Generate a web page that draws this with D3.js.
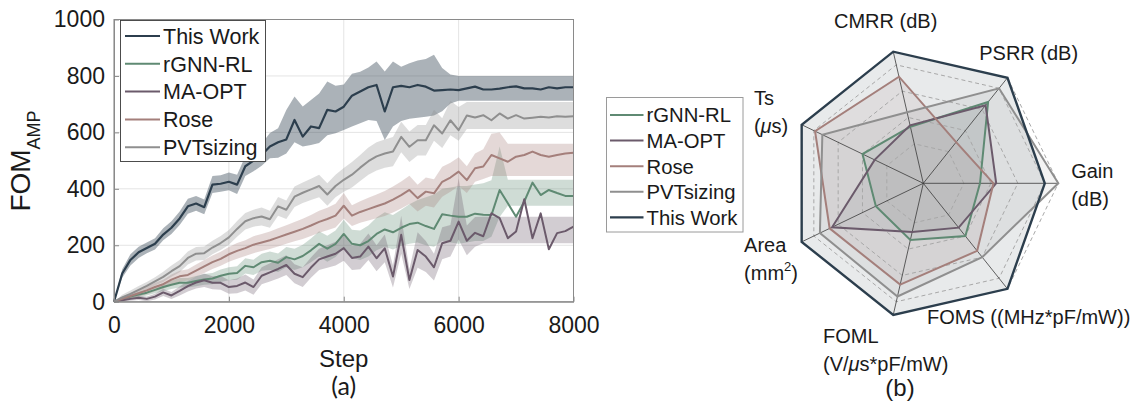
<!DOCTYPE html>
<html>
<head>
<meta charset="utf-8">
<script src="https://cdn.jsdelivr.net/npm/d3@7"></script>
<style>
  body { margin: 0; background: #fff; }
  text { font-family: "Liberation Sans", Arial, sans-serif; fill: #1a1a1a; }
</style>
</head>
<body>
<script>
// ---- (a) training curves ----
var steps = [0, 143, 286, 429, 571, 714, 857, 1000, 1143, 1286, 1429, 1571, 1714, 1857, 2000,
  2143, 2286, 2429, 2571, 2714, 2857, 3000, 3143, 3286, 3429, 3571, 3714, 3857, 4000,
  4143, 4286, 4429, 4571, 4714, 4857, 5000, 5143, 5286, 5429, 5571, 5714, 5857, 6000,
  6143, 6286, 6429, 6571, 6714, 6857, 7000, 7143, 7286, 7429, 7571, 7714, 7857, 8000];

var twMean = [0, 100, 148, 175, 190, 205, 238, 262, 295, 338, 348, 335, 415, 418, 425, 415, 480, 500, 520, 550,
  565, 575, 644, 585, 621, 615, 680, 674, 691, 730, 745, 760, 768, 674, 760, 765, 760, 768, 762, 748,
  750, 752, 750, 756, 762, 752, 752, 755, 760, 763, 756, 756, 752, 760, 756, 760, 760];
var twLo = [0, 85, 128, 155, 172, 185, 218, 240, 272, 312, 322, 310, 385, 390, 395, 382, 445, 462, 482, 508,
  510, 525, 565, 550, 555, 562, 590, 597, 608, 621, 632, 644, 640, 573, 621, 640, 648, 652, 655, 660,
  675, 702, 712, 712, 712, 712, 712, 712, 712, 712, 712, 712, 712, 712, 712, 712, 712];
var twHi = [0, 115, 168, 195, 210, 225, 260, 285, 320, 365, 375, 362, 445, 448, 458, 450, 515, 540, 560, 598,
  615, 679, 727, 692, 715, 738, 780, 765, 770, 808, 815, 830, 851, 816, 851, 833, 845, 855, 860, 875,
  828, 805, 800, 800, 800, 800, 800, 800, 800, 800, 800, 800, 800, 800, 800, 800, 800];

var gnnMean = [0, 10, 18, 25, 32, 42, 52, 60, 67, 67, 73, 79, 82, 92, 99, 102, 127, 122, 140, 145,
  138, 158, 150, 162, 182, 205, 188, 205, 240, 205, 200, 215, 240, 256, 246, 262, 275, 280, 268, 258,
  310, 305, 301, 301, 312, 308, 307, 396, 349, 301, 355, 422, 378, 396, 385, 375, 375];
var gnnLo = [0, 3, 10, 16, 22, 30, 38, 45, 50, 50, 55, 60, 62, 70, 76, 78, 100, 95, 110, 112,
  105, 122, 112, 122, 140, 160, 142, 158, 190, 155, 148, 160, 182, 195, 185, 198, 205, 210, 200, 195,
  215, 210, 205, 210, 215, 215, 230, 300, 340, 340, 340, 340, 340, 340, 340, 340, 340];
var gnnHi = [0, 17, 26, 34, 42, 54, 66, 75, 84, 84, 91, 98, 102, 114, 122, 126, 154, 149, 170, 178,
  171, 194, 188, 202, 224, 250, 234, 252, 290, 255, 252, 270, 298, 317, 307, 326, 345, 360, 370, 380,
  400, 405, 410, 410, 415, 420, 430, 550, 432, 432, 432, 432, 432, 432, 432, 432, 432];

var maMean = [0, 5, 10, 14, 10, 18, 33, 22, 38, 55, 68, 76, 67, 67, 52, 56, 68, 52, 92, 104,
  116, 130, 99, 87, 121, 150, 160, 170, 190, 155, 160, 195, 154, 189, 89, 237, 77, 183, 160, 122,
  207, 216, 284, 216, 244, 232, 313, 296, 225, 249, 363, 225, 313, 186, 243, 250, 266];
var maLo = [0, 0, 3, 6, 2, 8, 20, 10, 22, 36, 47, 52, 44, 42, 28, 30, 40, 25, 62, 72,
  82, 95, 65, 52, 85, 112, 120, 128, 145, 112, 115, 148, 108, 140, 50, 170, 45, 120, 105, 75,
  150, 160, 220, 165, 195, 207, 207, 207, 207, 207, 207, 207, 207, 207, 207, 207, 207];
var maHi = [0, 10, 17, 22, 18, 28, 46, 34, 54, 74, 89, 100, 90, 92, 76, 82, 96, 79, 122, 136,
  150, 165, 133, 122, 157, 188, 200, 212, 235, 198, 205, 242, 200, 238, 128, 305, 115, 246, 215, 170,
  264, 272, 437, 270, 300, 301, 301, 301, 301, 301, 301, 301, 301, 301, 301, 301, 301];

var roseMean = [0, 10, 20, 30, 40, 52, 62, 78, 90, 95, 110, 125, 140, 152, 168, 180, 190, 202, 210, 218,
  228, 238, 248, 258, 270, 283, 293, 305, 340, 305, 318, 328, 338, 348, 362, 378, 396, 367, 390, 384,
  425, 440, 461, 431, 473, 479, 520, 508, 496, 514, 520, 532, 520, 514, 520, 525, 528];
var roseLo = [0, 2, 10, 18, 26, 37, 46, 60, 70, 75, 88, 102, 116, 127, 142, 152, 162, 172, 180, 187,
  196, 205, 214, 222, 233, 244, 253, 263, 295, 268, 280, 288, 296, 304, 316, 330, 346, 320, 340, 334,
  372, 390, 410, 385, 425, 435, 445, 445, 445, 445, 445, 445, 445, 445, 445, 445, 445];
var roseHi = [0, 18, 30, 42, 54, 67, 78, 96, 110, 115, 132, 148, 164, 177, 194, 208, 218, 232, 240, 249,
  260, 271, 282, 294, 307, 322, 333, 347, 385, 342, 356, 368, 380, 392, 408, 426, 446, 414, 440, 434,
  478, 492, 512, 480, 525, 540, 595, 600, 560, 560, 560, 560, 560, 560, 560, 560, 560];

var pvtMean = [0, 15, 28, 42, 56, 72, 88, 108, 126, 155, 170, 172, 192, 208, 228, 258, 285, 296, 302, 292,
  338, 326, 372, 386, 398, 410, 380, 410, 432, 450, 475, 498, 515, 525, 532, 584, 549, 572, 572, 625,
  596, 643, 608, 660, 653, 661, 643, 667, 649, 661, 649, 652, 655, 653, 657, 655, 657];
var pvtLo = [0, 5, 16, 28, 42, 57, 70, 88, 104, 132, 146, 148, 168, 183, 202, 230, 256, 266, 270, 262,
  305, 293, 336, 350, 360, 370, 340, 370, 390, 405, 428, 450, 465, 475, 480, 530, 495, 518, 518, 570,
  545, 590, 570, 612, 612, 612, 612, 612, 612, 612, 612, 612, 612, 612, 612, 612, 612];
var pvtHi = [0, 25, 40, 56, 70, 87, 106, 128, 148, 178, 194, 196, 216, 233, 254, 286, 314, 326, 334, 322,
  371, 359, 408, 422, 436, 450, 420, 450, 474, 495, 520, 546, 565, 575, 584, 638, 603, 626, 626, 680,
  650, 712, 690, 708, 708, 708, 708, 708, 708, 708, 708, 708, 708, 708, 708, 708, 708];

var xTicks = [0, 2000, 4000, 6000, 8000];
var yTicks = [0, 200, 400, 600, 800, 1000];

// ---- (b) radar ----
var radarLabels = [["Gain", "(dB)"], ["PSRR (dB)"], ["CMRR (dB)"], ["Ts", "(\u03bcs)"],
  ["Area", "(mm^2)"], ["FOML", "(V/\u03bcs*pF/mW)"], ["FOMS ((MHz*pF/mW))"]];
var radarGnn  = [0.42, 0.77, 0.43, 0.50, 0.39, 0.43, 0.50];
var radarMa   = [0.54, 0.74, 0.44, 0.40, 0.75, 0.37, 0.42];
var radarRose = [0.52, 0.39, 0.81, 0.89, 0.77, 0.77, 0.64];
var radarPvt  = [1.00, 0.90, 0.54, 0.83, 0.85, 0.86, 0.70];
var radarTw   = [0.90, 1.00, 1.00, 1.00, 1.00, 1.00, 1.00];
var ringLevels = [0.3, 0.5, 0.7, 0.9, 1.0];

var colors = {
  tw: "#2c3e4d", gnn: "#5f8a73", ma: "#6b5a6b", rose: "#a47f7b", pvt: "#8f8f8f"
};

var svg = d3.select("body").append("svg")
  .attr("width", 1134)
  .attr("height", 409);

svg.append("rect").attr("width", 1134).attr("height", 409).attr("fill", "#fff");

// ================= (a) =================
var x = d3.scaleLinear().domain([0, 8000]).range([114, 573.5]);
var y = d3.scaleLinear().domain([0, 1000]).range([301.7, 19.5]);

var chartA = svg.append("g");

// grid
chartA.selectAll(".gx").data(xTicks).enter().append("line")
  .attr("x1", d => x(d)).attr("x2", d => x(d))
  .attr("y1", y(0)).attr("y2", y(1000))
  .attr("stroke", "#e4e4e4").attr("stroke-width", 1);
chartA.selectAll(".gy").data(yTicks).enter().append("line")
  .attr("x1", x(0)).attr("x2", x(8000))
  .attr("y1", d => y(d)).attr("y2", d => y(d))
  .attr("stroke", "#e4e4e4").attr("stroke-width", 1);

var seriesA = [
  { name: "This Work", mean: twMean, lo: twLo, hi: twHi, color: colors.tw, band: 0.4, w: 2.2 },
  { name: "rGNN-RL", mean: gnnMean, lo: gnnLo, hi: gnnHi, color: colors.gnn, band: 0.3, w: 2 },
  { name: "MA-OPT", mean: maMean, lo: maLo, hi: maHi, color: colors.ma, band: 0.3, w: 2 },
  { name: "Rose", mean: roseMean, lo: roseLo, hi: roseHi, color: colors.rose, band: 0.3, w: 2 },
  { name: "PVTsizing", mean: pvtMean, lo: pvtLo, hi: pvtHi, color: colors.pvt, band: 0.3, w: 2 }
];

var area = d3.area()
  .x((d, i) => x(steps[i]))
  .y0(d => y(d[0]))
  .y1(d => y(d[1]));

var line = d3.line()
  .x((d, i) => x(steps[i]))
  .y(d => y(d));

// shaded bands
seriesA.forEach(function(s) {
  chartA.append("path")
    .datum(d3.zip(s.lo, s.hi))
    .attr("d", area)
    .attr("fill", s.color)
    .attr("fill-opacity", s.band)
    .attr("stroke", "none");
});

// mean lines
seriesA.forEach(function(s) {
  chartA.append("path")
    .datum(s.mean)
    .attr("d", line)
    .attr("fill", "none")
    .attr("stroke", s.color)
    .attr("stroke-width", s.w)
    .attr("stroke-linejoin", "round");
});

// axes
var axisColor = "#8a8a8a";
var leftAxis = d3.axisLeft(y).tickValues(yTicks).tickFormat(d3.format("d"))
  .tickSizeInner(-5).tickSizeOuter(0).tickPadding(9);
var bottomAxis = d3.axisBottom(x).tickValues(xTicks).tickFormat(d3.format("d"))
  .tickSizeInner(-5).tickSizeOuter(0).tickPadding(15);

var gy = chartA.append("g").attr("transform", `translate(${x(0)},0)`).call(leftAxis);
var gx = chartA.append("g").attr("transform", `translate(0,${y(0)})`).call(bottomAxis);
[gx, gy].forEach(function(g) {
  g.select(".domain").attr("stroke", axisColor);
  g.selectAll(".tick line").attr("stroke", axisColor);
  g.selectAll(".tick text")
    .attr("font-size", 23)
    .attr("fill", "#262626");
});

// top / right box edges
chartA.append("rect")
  .attr("x", x(0)).attr("y", y(1000))
  .attr("width", x(8000) - x(0)).attr("height", y(0) - y(1000))
  .attr("fill", "none").attr("stroke", axisColor).attr("stroke-width", 1);

// axis labels
chartA.append("text")
  .attr("x", (x(0) + x(8000)) / 2).attr("y", 367)
  .attr("text-anchor", "middle").attr("font-size", 24)
  .text("Step");

var yLab = chartA.append("text")
  .attr("transform", "translate(30,161) rotate(-90)")
  .attr("text-anchor", "middle")
  .attr("font-size", 28);
yLab.append("tspan").text("FOM");
yLab.append("tspan").attr("font-size", 18).attr("dy", 10).text("AMP");

// legend (a)
var legA = chartA.append("g");
legA.append("rect")
  .attr("x", 120.5).attr("y", 20.5).attr("width", 145).attr("height", 141)
  .attr("fill", "#fff").attr("stroke", "#3a3a3a").attr("stroke-width", 0.9);
seriesA.forEach(function(s, i) {
  var ly = 36 + i * 27.8;
  legA.append("line")
    .attr("x1", 125).attr("x2", 160).attr("y1", ly).attr("y2", ly)
    .attr("stroke", s.color).attr("stroke-width", s.w);
  legA.append("text")
    .attr("x", 163).attr("y", ly + 7.8)
    .attr("font-size", 21.5)
    .text(s.name);
});

svg.append("text")
  .attr("x", (x(0) + x(8000)) / 2).attr("y", 395)
  .attr("text-anchor", "middle")
  .attr("font-size", 25)
  .style("font-family", "Lato, 'Open Sans', sans-serif")
  .text("(a)");

// ================= (b) =================
var cx = 923.3, cy = 183.3, R = 135;
var nAxes = radarLabels.length;
var rScale = d3.scaleLinear().domain([0, 1]).range([0, R]);
var angleOf = i => i * 2 * Math.PI / nAxes; // counter-clockwise from the +x direction

var radial = d3.lineRadial()
  .angle((d, i) => Math.PI / 2 - angleOf(i))
  .radius(d => rScale(d))
  .curve(d3.curveLinearClosed);

var chartB = svg.append("g").attr("transform", `translate(${cx},${cy})`);

var seriesB = [
  { name: "rGNN-RL", vals: radarGnn, color: colors.gnn, w: 2 },
  { name: "MA-OPT", vals: radarMa, color: colors.ma, w: 2 },
  { name: "Rose", vals: radarRose, color: colors.rose, w: 2 },
  { name: "PVTsizing", vals: radarPvt, color: colors.pvt, w: 2 },
  { name: "This Work", vals: radarTw, color: colors.tw, w: 2.4 }
];

// fills
seriesB.forEach(function(s) {
  chartB.append("path")
    .datum(s.vals)
    .attr("d", radial)
    .attr("fill", s.color)
    .attr("fill-opacity", 0.11)
    .attr("stroke", "none");
});

// web rings
ringLevels.forEach(function(lv) {
  chartB.append("path")
    .datum(d3.range(nAxes).map(() => lv))
    .attr("d", radial)
    .attr("fill", "none")
    .attr("stroke", "#a8a8a8")
    .attr("stroke-width", 1)
    .attr("stroke-dasharray", "4,3");
});

// spokes
chartB.selectAll(".spoke").data(d3.range(nAxes)).enter().append("line")
  .attr("x1", 0).attr("y1", 0)
  .attr("x2", i => rScale(1) * Math.cos(angleOf(i)))
  .attr("y2", i => -rScale(1) * Math.sin(angleOf(i)))
  .attr("stroke", "#3a3a3a")
  .attr("stroke-width", 0.8);

// outlines
seriesB.forEach(function(s) {
  chartB.append("path")
    .datum(s.vals)
    .attr("d", radial)
    .attr("fill", "none")
    .attr("stroke", s.color)
    .attr("stroke-width", s.w)
    .attr("stroke-linejoin", "miter");
});

// axis labels: block centred beyond the rim, lines left aligned
var labelR = rScale(1) * 1.2 + 7;
radarLabels.forEach(function(lines, i) {
  var a = angleOf(i);
  var bx = cx + labelR * Math.cos(a);
  var by = cy - labelR * Math.sin(a) + 2;
  var lh = 28;
  var texts = lines.map(function(ln, k) {
    var t = svg.append("text")
      .attr("font-size", 20)
      .attr("y", by - (lines.length - 1) * lh / 2 + k * lh + 7);
    var parts = ln.split(/\^(\w)/);
    parts.forEach(function(p, j) {
      if (j % 2 === 1) {
        t.append("tspan").attr("font-size", 13).attr("dy", -9).text(p);
        return;
      }
      if (!p.length) return;
      // greek mu is set in italic, as in the TeX labels
      p.split(/(\u03bc)/).forEach(function(q, m) {
        if (!q.length) return;
        var ts = t.append("tspan").text(q);
        if (m === 0 && j > 0) ts.attr("dy", 9);
        if (q === "\u03bc") ts.attr("font-style", "italic");
      });
    });
    return t;
  });
  var wMax = d3.max(texts, t => t.node().getComputedTextLength());
  texts.forEach(t => t.attr("x", bx - wMax / 2));
});

// legend (b)
var legB = svg.append("g");
legB.append("rect")
  .attr("x", 606.5).attr("y", 97.5).attr("width", 136.5).attr("height", 134.5)
  .attr("fill", "#fff").attr("stroke", "#9a9a9a").attr("stroke-width", 1);
seriesB.forEach(function(s, i) {
  var ly = 115 + i * 25.6;
  legB.append("line")
    .attr("x1", 610).attr("x2", 643.5).attr("y1", ly).attr("y2", ly)
    .attr("stroke", s.color).attr("stroke-width", s.w);
  legB.append("text")
    .attr("x", 646.5).attr("y", ly + 7.3)
    .attr("font-size", 20.3)
    .text(s.name);
});

svg.append("text")
  .attr("x", 900).attr("y", 396)
  .attr("text-anchor", "middle")
  .attr("font-size", 24)
  .text("(b)");
</script>
</body>
</html>
